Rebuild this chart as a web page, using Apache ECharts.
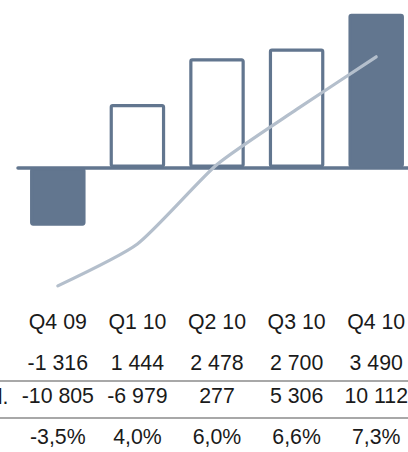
<!DOCTYPE html>
<html>
<head>
<meta charset="utf-8">
<script src="https://cdn.jsdelivr.net/npm/echarts@6/dist/echarts.min.js"></script>
<style>
html,body{margin:0;padding:0;background:#fff;}
#chart{width:408px;height:452px;}
</style>
</head>
<body>
<div id="chart"></div>
<script>
// ---- data ----
var categories = ['Q4 09', 'Q1 10', 'Q2 10', 'Q3 10', 'Q4 10'];
var barValues = [-1316, 1444, 2478, 2700, 3490];
var cumulValues = [-10805, -6979, 277, 5306, 10112];
var pctValues = [-3.5, 4.0, 6.0, 6.6, 7.3];
var filledBars = [true, false, false, false, true];
var rowLabel = 'Cumul.';

// ---- helpers ----
function fmtInt(v) {
  var s = Math.abs(v).toString().replace(/\B(?=(\d{3})+(?!\d))/g, ' ');
  return (v < 0 ? '-' : '') + s;
}
function fmtPct(v) {
  return v.toFixed(1).replace('.', ',') + '%';
}

var BAR = '#62768f';
var LINE = '#b4bfcc';
var TXT = '#1a1a1a';
var FONT = "'Liberation Sans', Arial, sans-serif";
var FS = 21.3;

var chart = echarts.init(document.getElementById('chart'), null, {renderer: 'svg'});

function labelAxis(offset, fmt) {
  return {
    type: 'category',
    data: categories,
    gridIndex: 0,
    position: 'bottom',
    offset: offset,
    axisLine: {show: false},
    axisTick: {show: false},
    splitLine: {show: false},
    axisLabel: {
      show: true,
      margin: 0,
      interval: 0,
      hideOverlap: false,
      color: TXT,
      fontSize: FS,
      fontFamily: FONT,
      verticalAlign: 'top',
      formatter: fmt
    }
  };
}

var option = {
  backgroundColor: '#fff',
  animation: false,
  grid: {left: 18, top: 0, width: 398, height: 300, containLabel: false, outerBoundsMode: 'none'},
  xAxis: [
    {
      type: 'category',
      data: categories,
      gridIndex: 0,
      axisLine: {show: true, onZero: true, lineStyle: {color: BAR, width: 3.5, cap: 'round'}},
      axisTick: {show: false},
      axisLabel: {show: false},
      splitLine: {show: false}
    },
    labelAxis(11.5, function (v) { return v; }),
    labelAxis(52.5, function (v, i) { return fmtInt(barValues[i]); }),
    labelAxis(85.5, function (v, i) { return fmtInt(cumulValues[i]); }),
    labelAxis(126.5, function (v, i) { return fmtPct(pctValues[i]); })
  ],
  yAxis: [
    {type: 'value', min: -3000, max: 3800, show: false, splitLine: {show: false}},
    {type: 'value', min: -12100, max: 15300, show: false, splitLine: {show: false}}
  ],
  series: [
    {
      type: 'bar',
      xAxisIndex: 0,
      yAxisIndex: 0,
      barWidth: 55.5,
      z: 2,
      data: barValues.map(function (v, i) {
        return {
          value: v,
          itemStyle: {
            color: filledBars[i] ? BAR : '#ffffff',
            borderColor: BAR,
            borderWidth: 3.2,
            borderRadius: 1.5
          }
        };
      })
    },
    {
      type: 'line',
      xAxisIndex: 0,
      yAxisIndex: 1,
      data: cumulValues,
      smooth: 0.2,
      showSymbol: false,
      symbol: 'none',
      z: 5,
      lineStyle: {color: LINE, width: 3.2, cap: 'round', join: 'round'}
    }
  ],
  graphic: [
    {type: 'line', shape: {x1: 0, y1: 381, x2: 408, y2: 381}, style: {stroke: '#a8a8a8', lineWidth: 2}, z: 10},
    {type: 'line', shape: {x1: 0, y1: 418, x2: 408, y2: 418}, style: {stroke: '#a8a8a8', lineWidth: 2}, z: 10},
    {type: 'text', x: 8.5, y: 397, style: {text: rowLabel, fill: TXT, fontSize: FS, fontFamily: FONT, textAlign: 'right', textVerticalAlign: 'middle'}, z: 10}
  ]
};
chart.setOption(option);
</script>
</body>
</html>
